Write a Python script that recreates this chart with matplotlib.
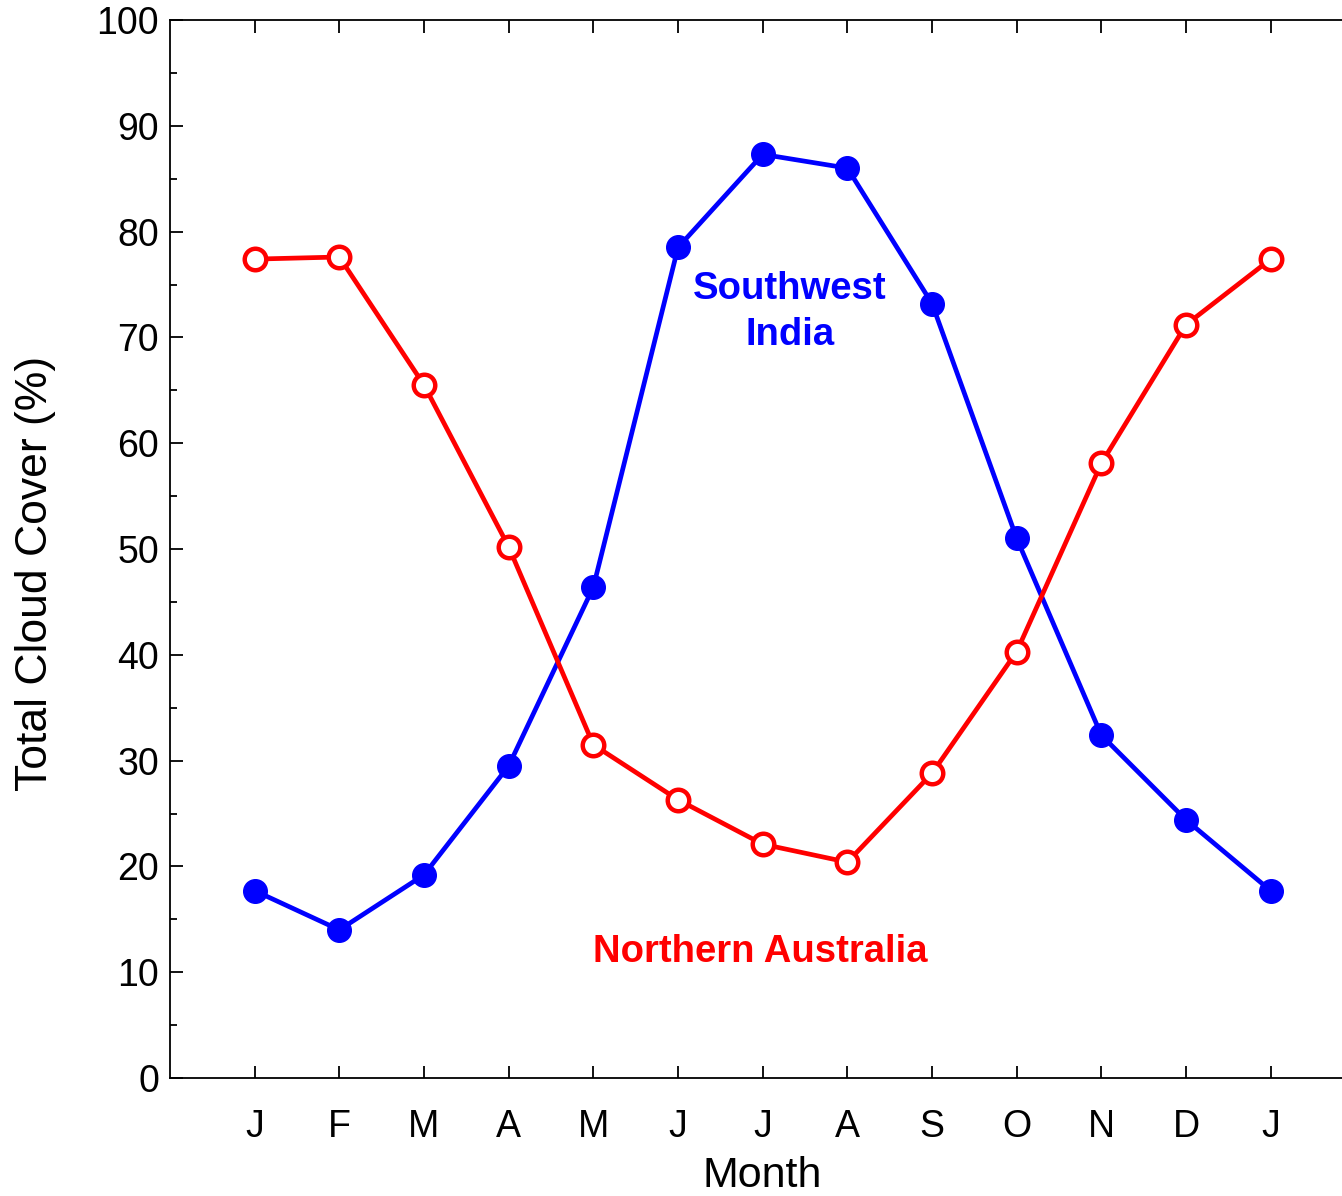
import matplotlib
matplotlib.use("Agg")
import matplotlib.pyplot as plt
from matplotlib.ticker import MultipleLocator

plt.rcParams["font.family"] = ["Liberation Sans", "DejaVu Sans"]

months = ["J", "F", "M", "A", "M", "J", "J", "A", "S", "O", "N", "D", "J"]
sw_india = [17.7, 14.0, 19.2, 29.5, 46.4, 78.5, 87.3, 86.0, 73.2, 51.0, 32.4, 24.4, 17.7]
n_australia = [77.4, 77.6, 65.5, 50.2, 31.5, 26.3, 22.1, 20.4, 28.8, 40.3, 58.1, 71.2, 77.4]

x = list(range(1, len(months) + 1))

fig = plt.figure(figsize=(13.42, 11.96), dpi=100)
ax = fig.add_axes([170 / 1342, 118 / 1196, 1172 / 1342, 1058 / 1196])

ax.plot(x, sw_india, color="#0000ff", lw=3.4, marker="o", ms=17,
        mfc="#0000ff", mec="#0000ff", zorder=3)
ax.plot(x, n_australia, color="#ff0000", lw=3.4, marker="o", ms=15.5,
        mfc="white", mec="#ff0000", mew=3.2, zorder=3)

ax.text(7.32, 72.4, "Southwest\nIndia", color="#0000ff", fontsize=27.5,
        fontweight="bold", ha="center", va="center", linespacing=1.35)
ax.text(6.97, 11.9, "Northern Australia", color="#ff0000", fontsize=27.5,
        fontweight="bold", ha="center", va="center")

ax.set_xlim(0, 1172 / 84.67)
ax.set_ylim(0, 100)
ax.set_xticks(x)
ax.set_xticklabels(months)
ax.yaxis.set_major_locator(MultipleLocator(10))
ax.yaxis.set_minor_locator(MultipleLocator(5))

ax.spines["right"].set_visible(False)
for s in ["left", "top", "bottom"]:
    ax.spines[s].set_linewidth(1.3)

ax.tick_params(axis="x", which="both", direction="in", top=True, bottom=True,
               length=9, width=1.3, labelsize=27, pad=22)
ax.tick_params(axis="y", which="major", direction="in", left=True, right=False,
               length=9, width=1.3, labelsize=27, pad=8)
ax.tick_params(axis="y", which="minor", direction="in", left=True, right=False,
               length=5, width=1.3)

ax.set_xlabel("Month", fontsize=31)
ax.xaxis.set_label_coords(0.505, -0.074)
ax.set_ylabel("Total Cloud Cover (%)", fontsize=32)
ax.yaxis.set_label_coords(-0.097, 0.477)

fig.savefig("out.png", dpi=100)
